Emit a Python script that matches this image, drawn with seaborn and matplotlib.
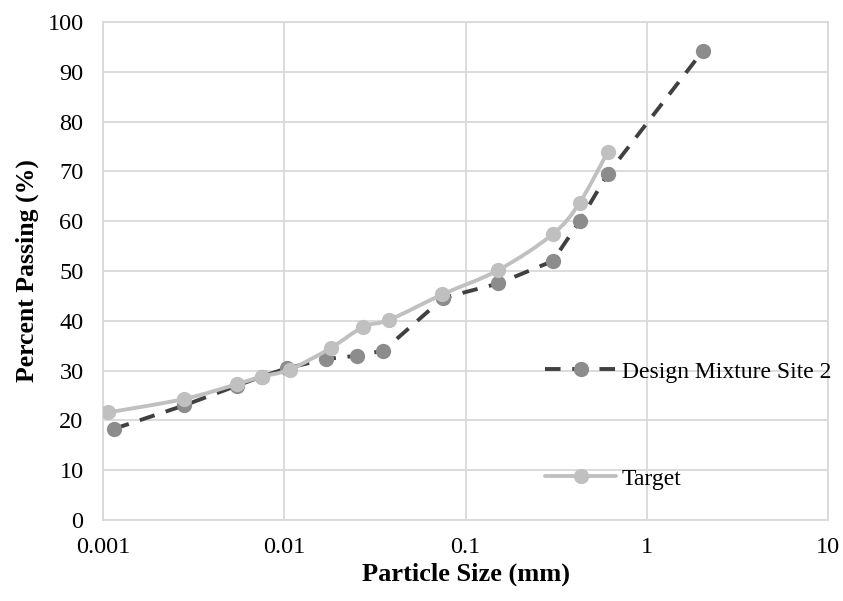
import numpy as np
import matplotlib
matplotlib.use("Agg")
import matplotlib.pyplot as plt
from matplotlib.path import Path
from matplotlib.patches import PathPatch
from matplotlib.lines import Line2D
from matplotlib.ticker import FixedLocator, FixedFormatter, NullLocator
import seaborn as sns

# Gradation data (particle size in mm, percent passing)
design_size = [0.00115, 0.0028, 0.0055, 0.0075, 0.0104, 0.0169, 0.0253, 0.0352,
               0.0756, 0.152, 0.303, 0.426, 0.609, 2.04]
design_pass = [18.3, 23.0, 27.0, 28.8, 30.5, 32.3, 33.0, 34.0,
               44.6, 47.5, 52.0, 60.0, 69.5, 94.2]

target_size = [0.00107, 0.0028, 0.0055, 0.0075, 0.0107, 0.018, 0.0273, 0.038,
               0.0746, 0.152, 0.303, 0.426, 0.609]
target_pass = [21.6, 24.3, 27.3, 28.8, 30.2, 34.5, 38.8, 40.2,
               45.3, 50.2, 57.4, 63.7, 73.9]

x_ticks = [0.001, 0.01, 0.1, 1, 10]
x_tick_labels = ["0.001", "0.01", "0.1", "1", "10"]
y_ticks = list(range(0, 101, 10))

design_label = "Design Mixture Site 2"
target_label = "Target"

DARK_LINE = "#404040"
DARK_MARK = "#8c8c8c"
LIGHT = "#c0c0c0"
GRID = "#d9d9d9"
LW = 2.8
MS = 11

sns.set_theme(style="white")
plt.rcParams["font.family"] = ["Liberation Serif", "DejaVu Serif"]
plt.rcParams["text.color"] = "black"
plt.rcParams["axes.labelcolor"] = "black"

fig = plt.figure(figsize=(8.43, 6.01), dpi=100)
ax = fig.add_axes([0.1222, 0.1348, 0.8600, 0.8286])
ax.set_xscale("log")

# Design mixture: dashed line with grey markers
sns.lineplot(x=design_size, y=design_pass, ax=ax, color=DARK_LINE,
             linewidth=LW, linestyle=(0, (4, 3)), marker="o", markersize=MS,
             markerfacecolor=DARK_MARK, markeredgecolor=DARK_MARK,
             markeredgewidth=0, zorder=3)


def smooth_path(xs, ys, k=1/6):
    """Catmull-Rom style Bezier path through the points, built in log-x space."""
    lx = np.log10(xs)
    y = np.asarray(ys, dtype=float)
    n = len(lx)
    verts = [(xs[0], y[0])]
    codes = [Path.MOVETO]
    for i in range(n - 1):
        i0 = max(i - 1, 0)
        i3 = min(i + 2, n - 1)
        c1 = (lx[i] + (lx[i + 1] - lx[i0]) * k, y[i] + (y[i + 1] - y[i0]) * k)
        c2 = (lx[i + 1] - (lx[i3] - lx[i]) * k, y[i + 1] - (y[i3] - y[i]) * k)
        verts += [(10 ** c1[0], c1[1]), (10 ** c2[0], c2[1]), (xs[i + 1], y[i + 1])]
        codes += [Path.CURVE4] * 3
    return Path(verts, codes)


# Target: smoothed light line with light markers
ax.add_patch(PathPatch(smooth_path(target_size, target_pass), facecolor="none",
                       edgecolor=LIGHT, linewidth=LW, zorder=4))
sns.scatterplot(x=target_size, y=target_pass, ax=ax, color=LIGHT, s=MS ** 2,
                linewidth=0, zorder=5)

ax.set_xlim(0.001, 10)
ax.set_ylim(0, 100)
ax.xaxis.set_major_locator(FixedLocator(x_ticks))
ax.xaxis.set_major_formatter(FixedFormatter(x_tick_labels))
ax.xaxis.set_minor_locator(NullLocator())
ax.set_yticks(y_ticks)

ax.grid(True, color=GRID, linewidth=1.3, zorder=0)
ax.set_axisbelow(True)
for line in ax.get_xgridlines():
    if abs(line.get_xdata()[0] - 1) < 1e-9:
        line.set_color("#bfbfbf")
for s in ax.spines.values():
    s.set_color(GRID)
    s.set_linewidth(1.3)

ax.tick_params(axis="both", which="major", length=4, width=1.3, color=GRID,
               labelsize=17.5, labelcolor="black", direction="out")
ax.tick_params(axis="x", pad=8.5)
ax.tick_params(axis="y", pad=10)

ax.set_xlabel("Particle Size (mm)", fontsize=19, fontweight="bold", labelpad=3)
ax.set_ylabel("Percent Passing (%)", fontsize=18.5, fontweight="bold", labelpad=6)

handles = [
    Line2D([], [], color=DARK_LINE, linewidth=LW, linestyle=(0, (4, 3)),
           marker="o", markersize=MS, markerfacecolor=DARK_MARK,
           markeredgecolor=DARK_MARK, markeredgewidth=0),
    Line2D([], [], color=LIGHT, linewidth=LW, marker="o", markersize=MS,
           markerfacecolor=LIGHT, markeredgecolor=LIGHT, markeredgewidth=0),
]
leg = ax.legend(handles, [design_label, target_label], loc="upper left",
                bbox_to_anchor=(0.610, 0.319), frameon=False, fontsize=17,
                handlelength=3.0, handletextpad=0.25, labelspacing=3.62,
                borderpad=0, borderaxespad=0)
for t in leg.get_texts():
    t.set_color("black")

fig.savefig("out.png", dpi=100)
